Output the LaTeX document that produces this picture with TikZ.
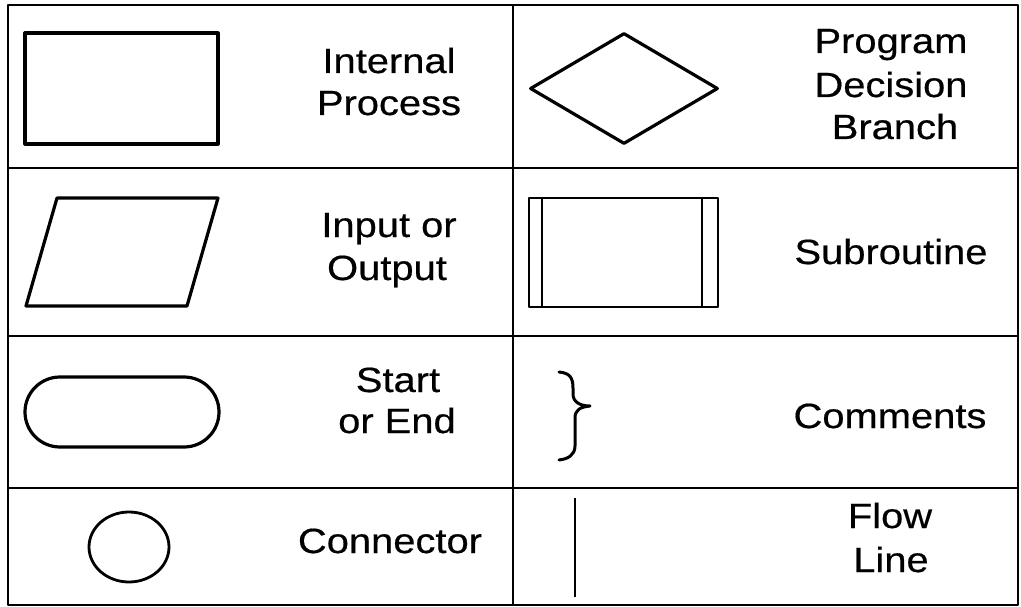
\documentclass[tikz,border=0pt]{standalone}
\usepackage{fontspec}
\setmainfont{Liberation Sans}[FakeStretch=1.14, FakeBold=0.5]
\usetikzlibrary{shapes.geometric,shapes.misc}
\tikzset{
  frame/.style={line width=2.8pt},
  symbol/.style={draw, line width=3.2pt, inner sep=0pt},
  thinsym/.style={draw, line width=2.2pt, inner sep=0pt},
  lbl/.style={anchor=base, inner sep=0pt, font=\fontsize{35}{42}\selectfont},
}
\begin{document}
\begin{tikzpicture}[x=1pt, y=-1pt, line join=round]
\useasboundingbox (0,0) rectangle (1021,607);

% table frame and cell dividers
\coordinate (tl) at (8,5);
\coordinate (br) at (1018,605);
\draw[frame] (tl) rectangle (br);
\coordinate (mt) at (513,5);
\coordinate (mb) at (513,605);
\draw[frame] (mt) -- (mb);
\coordinate (r1l) at (8,168);   \coordinate (r1r) at (1018,168);
\coordinate (r2l) at (8,336);   \coordinate (r2r) at (1018,336);
\coordinate (r3l) at (8,488);   \coordinate (r3r) at (1018,488);
\draw[frame] (r1l) -- (r1r) (r2l) -- (r2r) (r3l) -- (r3r);

% internal process
\node[symbol, rectangle, minimum width=193pt, minimum height=111pt] (proc) at (121.5,88.5) {};
\node[lbl] (proc1) at (389,73) {Internal};
\node[lbl] (proc2) at (389,115) {Process};

% decision
\node[symbol, diamond, minimum width=188pt, minimum height=111pt] (dec) at (624,88.5) {};
\node[lbl] (dec1) at (891,53) {Program};
\node[lbl] (dec2) at (891,97) {Decision};
\node[lbl] (dec3) at (895,139) {Branch};

% input / output
\coordinate (io1) at (57,198);
\coordinate (io2) at (218,198);
\coordinate (io3) at (187,306);
\coordinate (io4) at (26,306);
\draw[line width=3.2pt] (io1) -- (io2) -- (io3) -- (io4) -- cycle;
\node[lbl] (io5) at (389,237) {Input or};
\node[lbl] (io6) at (387,280) {Output};

% subroutine
\node[thinsym, rectangle, minimum width=189pt, minimum height=109pt] (sub) at (623.5,252.5) {};
\draw[line width=2.2pt] ([xshift=14pt]sub.north west) -- ([xshift=14pt]sub.south west)
                        ([xshift=-17pt]sub.north east) -- ([xshift=-17pt]sub.south east);
\node[lbl] (sub1) at (891,264) {Subroutine};

% start / end
\node[symbol, rounded rectangle, minimum width=194pt, minimum height=70pt] (term) at (122,412) {};
\node[lbl] (term1) at (398,392) {Start};
\node[lbl] (term2) at (397,433) {or End};

% comment brace
\coordinate (bt) at (559,372);
\coordinate (bb) at (559,460);
\draw[line width=3pt, line cap=round] (bt) .. controls (570,373) and (573,378) .. (573,388) -- (573,394)
  .. controls (573,402) and (580,406) .. (590,406)
  .. controls (580,407) and (575,410) .. (575,418) -- (575,446)
  .. controls (575,455) and (568,459) .. (bb);
\node[lbl] (com1) at (890,428) {Comments};

% connector
\node[symbol, ellipse, line width=2.8pt, minimum width=80pt, minimum height=70pt] (conn) at (129,547) {};
\node[lbl] (conn1) at (390,553) {Connector};

% flow line
\coordinate (fl1) at (575,498);
\coordinate (fl2) at (575,597);
\draw[line width=2.6pt] (fl1) -- (fl2);
\node[lbl] (fl3) at (890,528) {Flow};
\node[lbl] (fl4) at (891,572) {Line};
\end{tikzpicture}
\end{document}
